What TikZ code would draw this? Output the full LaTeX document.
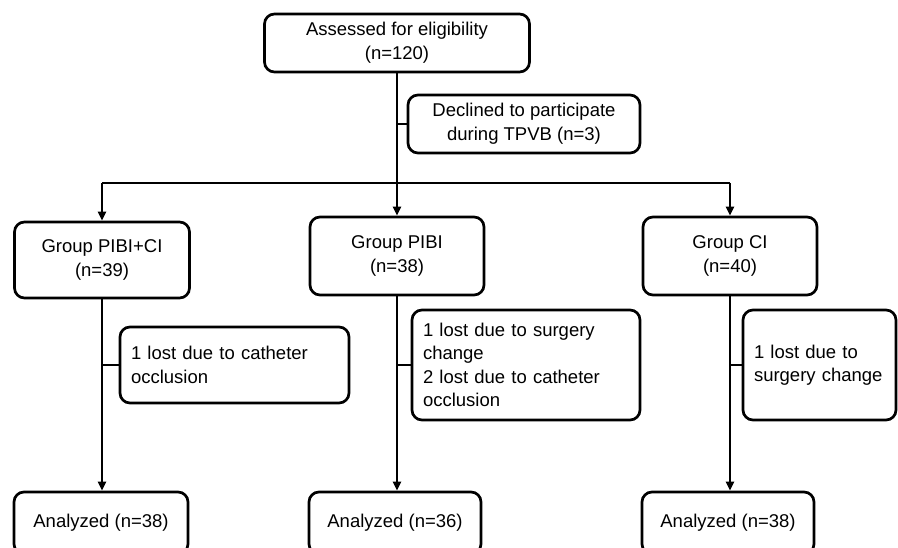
\documentclass[tikz,border=0pt]{standalone}
\usepackage{fontspec}
\setmainfont{Liberation Sans}
\usetikzlibrary{arrows.meta}
\begin{document}
\begin{tikzpicture}[x=1pt,y=-1pt,
  box/.style={draw, line width=2.7pt, rounded corners=10pt, align=center,
    font=\fontsize{18.5}{24}\selectfont, inner sep=0pt},
  lbox/.style={draw, line width=2.7pt, rounded corners=10pt, align=left,
    font=\fontsize{18.5}{23.5}\selectfont, inner ysep=0pt, inner xsep=11pt},
  conn/.style={line width=2.5pt},
  arr/.style={line width=2.5pt, -{Triangle[length=9pt,width=8pt]}}]
\useasboundingbox (0,0) rectangle (898,548);
\node[box, minimum width=265pt, minimum height=58pt] (top) at (397,43) {Assessed for eligibility\\(n=120)};
\node[box, minimum width=232pt, minimum height=58pt] (decl) at (524,124) {Declined to participate\\during TPVB (n=3)};
\node[box, minimum width=175pt, minimum height=76pt] (g1) at (102,260) {Group PIBI+CI\\(n=39)};
\node[box, minimum width=174pt, minimum height=78pt] (g2) at (397,256) {Group PIBI\\(n=38)};
\node[box, minimum width=174pt, minimum height=78pt] (g3) at (730,256) {Group CI\\(n=40)};
\node[lbox, text width=207pt, minimum height=76pt] (l1) at (234.5,365) {1 lost due to catheter\\occlusion};
\node[lbox, text width=206pt, minimum height=110pt] (l2) at (526,365) {1 lost due to surgery\\change\\2 lost due to catheter\\occlusion};
\node[lbox, text width=131pt, minimum height=110pt] (l3) at (819.5,365) {1 lost due to\\surgery change};
\node[box, minimum width=174pt, minimum height=62pt] (a1) at (101,523) {Analyzed (n=38)};
\node[box, minimum width=172pt, minimum height=62pt] (a2) at (395,523) {Analyzed (n=36)};
\node[box, minimum width=172pt, minimum height=62pt] (a3) at (728,523) {Analyzed (n=38)};
\coordinate (split) at (397,183);
\draw[conn] (top.south) -- (split);
\draw[conn] (top.south |- decl.west) -- (decl.west);
\draw[conn] (g1.north |- split) -- (g3.north |- split);
\draw[arr] (g1.north |- split) -- (g1.north);
\draw[arr] (split) -- (g2.north);
\draw[arr] (g3.north |- split) -- (g3.north);
\draw[arr] (g1.south) -- (g1.south |- a1.north);
\draw[arr] (g2.south) -- (g2.south |- a2.north);
\draw[arr] (g3.south) -- (g3.south |- a3.north);
\draw[conn] (g1.south |- l1.west) -- (l1.west);
\draw[conn] (g2.south |- l2.west) -- (l2.west);
\draw[conn] (g3.south |- l3.west) -- (l3.west);
\end{tikzpicture}
\end{document}
